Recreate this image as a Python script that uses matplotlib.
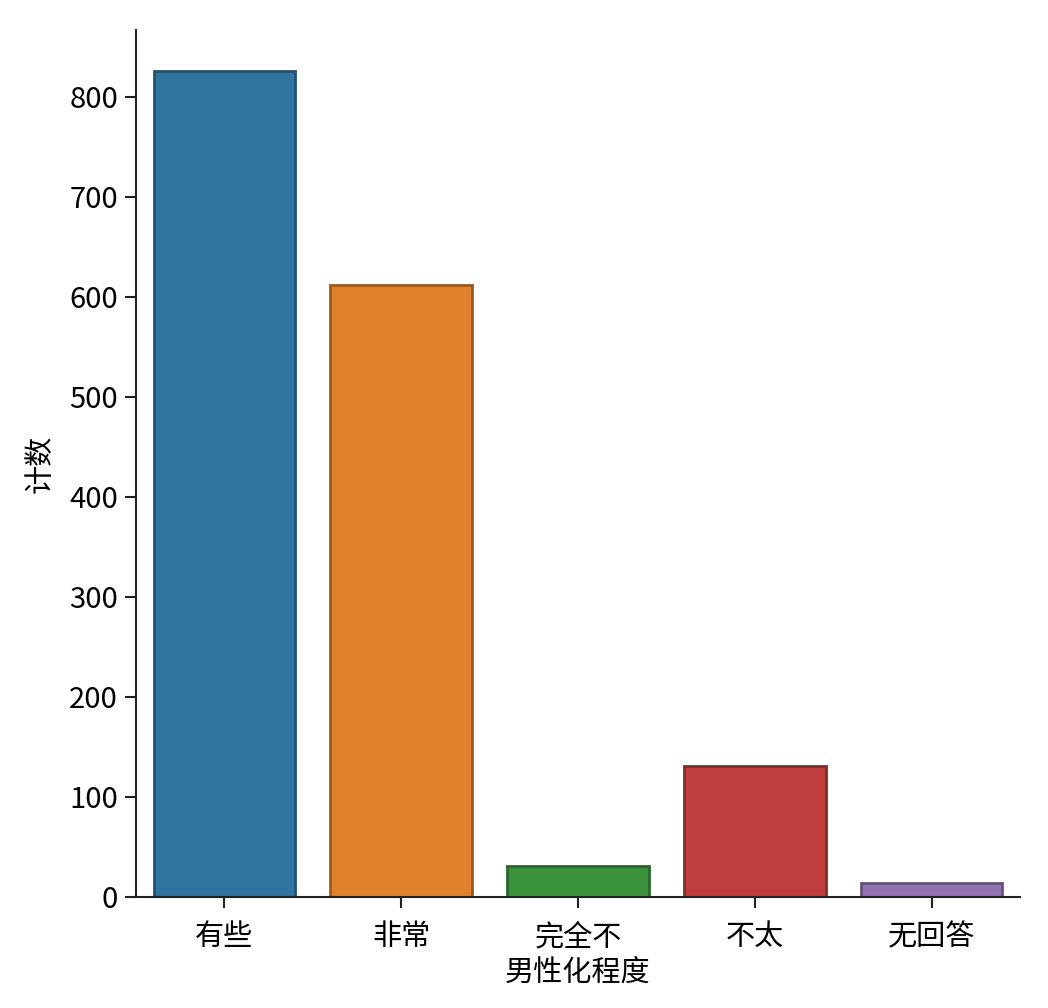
import numpy as np
import matplotlib
matplotlib.use("Agg")
import matplotlib.pyplot as plt
from matplotlib.colors import to_rgb

plt.rcParams['font.family'] = ['Noto Sans CJK SC', 'DejaVu Sans']

categories = ['有些', '非常', '完全不', '不太', '无回答']
counts = [826, 612, 31, 131, 14]
colors = ['#3274a1', '#e1812c', '#3a923a', '#c03d3e', '#9372b2']

# darker outline like the reference
edge_colors = [tuple(np.array(to_rgb(c)) * 0.7) for c in colors]

fig = plt.figure(figsize=(10.48, 10.08), dpi=100)
ax = fig.add_axes([136 / 1048, (1008 - 897) / 1008, (1020 - 136) / 1048, (897 - 30) / 1008])

x = np.arange(len(categories))
ax.bar(x, counts, width=0.8, color=colors, edgecolor=edge_colors, linewidth=2)

ax.set_xlim(-0.5, len(categories) - 0.5)
ax.set_ylim(0, 867)
ax.set_yticks(np.arange(0, 801, 100))
ax.set_xticks(x)
ax.set_xticklabels(categories)

ax.spines['top'].set_visible(False)
ax.spines['right'].set_visible(False)
for s in ['left', 'bottom']:
    ax.spines[s].set_linewidth(1.5)
    ax.spines[s].set_color('#222222')

ax.tick_params(axis='both', labelsize=21, length=8, width=1.5, color='#222222')
ax.tick_params(axis='x', pad=10)
ax.tick_params(axis='y', pad=5)
ax.set_xlabel('男性化程度', fontsize=21, labelpad=4)
ax.set_ylabel('计数', fontsize=21, labelpad=10)

fig.savefig('out.png', dpi=100)
